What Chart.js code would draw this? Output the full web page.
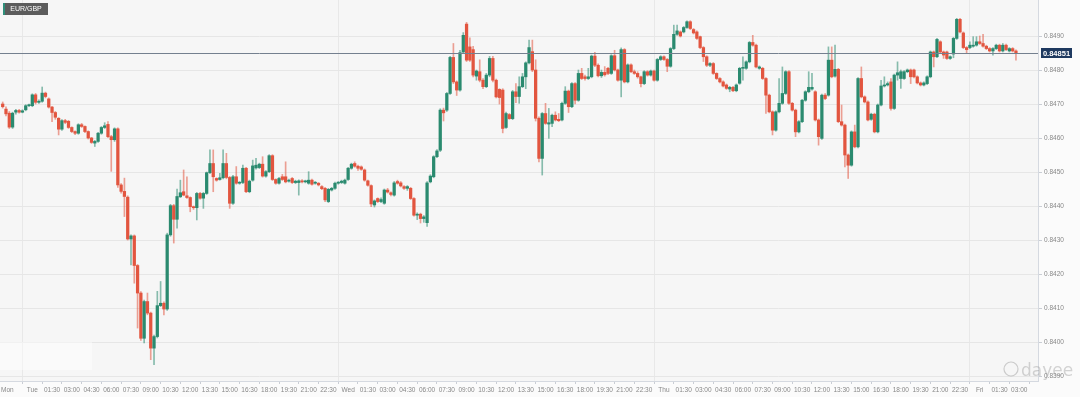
<!DOCTYPE html>
<html>
<head>
<meta charset="utf-8">
<script src="https://cdn.jsdelivr.net/npm/chart.js@4.4.0/dist/chart.umd.min.js"></script>
<style>
	html, body { margin: 0; padding: 0; background: #fbfbfb; }
	#space { width: 1080px; height: 397px; }
</style>
</head>
<body>
<div id="space"><canvas id="myChart" width="1080" height="397"></canvas></div>
<script>
// EUR/GBP 15 minute candles, Mon 21:45 -> Fri 02:45
// slot 0 = Tue 00:00, one slot = 15 min
const firstSlot = -9;

const opens = [
	// Mon 21:45 .. Tue 11:00
	0.84700, 0.84685, 0.84673, 0.84632, 0.84676, 0.84681, 0.84676, 0.84683, 0.84695,
	0.84695, 0.84727, 0.84705, 0.84708, 0.84732, 0.84715, 0.84691, 0.84675, 0.84658, 0.84626, 0.84651, 0.84649, 0.84631, 0.84619, 0.84614,
	0.84639, 0.84634, 0.84619, 0.84600, 0.84585, 0.84590, 0.84614, 0.84631, 0.84640, 0.84604, 0.84595, 0.84627, 0.84462, 0.84443, 0.84426,
	0.84303, 0.84312, 0.84225, 0.84144, 0.84011, 0.84119, 0.84085, 0.83982, 0.84016, 0.84107, 0.84114, 0.84097, 0.84315, 0.84401, 0.84361,
	// Tue 11:15 .. Wed 00:15
	0.84427, 0.84442, 0.84430, 0.84425, 0.84398, 0.84395, 0.84437, 0.84423, 0.84437, 0.84498, 0.84525, 0.84481, 0.84478, 0.84483, 0.84525,
	0.84484, 0.84408, 0.84486, 0.84467, 0.84469, 0.84511, 0.84442, 0.84476, 0.84512, 0.84513, 0.84523, 0.84488, 0.84501, 0.84548, 0.84478,
	0.84467, 0.84486, 0.84486, 0.84473, 0.84481, 0.84469, 0.84469, 0.84474, 0.84471, 0.84467, 0.84476, 0.84467, 0.84467, 0.84457, 0.84452,
	0.84413, 0.84447, 0.84452, 0.84467, 0.84469, 0.84467, 0.84478, 0.84511,
	// Wed 00:30 .. Wed 13:45
	0.84525, 0.84517, 0.84515, 0.84506, 0.84474, 0.84460, 0.84403, 0.84422, 0.84413, 0.84408, 0.84447, 0.84439, 0.84432, 0.84472, 0.84468,
	0.84457, 0.84452, 0.84452, 0.84422, 0.84373, 0.84376, 0.84363, 0.84351, 0.84471, 0.84486, 0.84545, 0.84564, 0.84682, 0.84682, 0.84731,
	0.84837, 0.84765, 0.84741, 0.84853, 0.84935, 0.84868, 0.84860, 0.84782, 0.84795, 0.84770, 0.84751, 0.84785, 0.84834, 0.84770, 0.84743,
	0.84741, 0.84631, 0.84669, 0.84657, 0.84736, 0.84722, 0.84751, 0.84780, 0.84821,
	// Wed 14:00 .. Thu 03:00
	0.84854, 0.84800, 0.84658, 0.84540, 0.84672, 0.84641, 0.84643, 0.84667, 0.84655, 0.84653, 0.84702, 0.84738, 0.84692, 0.84760, 0.84711,
	0.84790, 0.84780, 0.84775, 0.84780, 0.84841, 0.84814, 0.84783, 0.84793, 0.84805, 0.84790, 0.84842, 0.84800, 0.84770, 0.84860, 0.84765,
	0.84815, 0.84795, 0.84790, 0.84780, 0.84760, 0.84795, 0.84785, 0.84797, 0.84770, 0.84831, 0.84839, 0.84831, 0.84811, 0.84863, 0.84905,
	0.84912, 0.84912, 0.84925, 0.84942, 0.84919, 0.84912, 0.84898, 0.84866,
	// Thu 03:15 .. Thu 16:00
	0.84839, 0.84814, 0.84819, 0.84790, 0.84775, 0.84765, 0.84756, 0.84744, 0.84749, 0.84739, 0.84761, 0.84805, 0.84805, 0.84824, 0.84881,
	0.84873, 0.84805, 0.84805, 0.84775, 0.84726, 0.84677, 0.84623, 0.84677, 0.84702, 0.84731, 0.84795, 0.84702, 0.84682, 0.84618, 0.84648,
	0.84711, 0.84736, 0.84744, 0.84736, 0.84653, 0.84599, 0.84726, 0.84726, 0.84829, 0.84782, 0.84802, 0.84648, 0.84638, 0.84550, 0.84520,
	0.84618, 0.84574, 0.84775, 0.84721, 0.84706, 0.84655, 0.84670,
	// Thu 16:15 .. Fri 02:45
	0.84618, 0.84697, 0.84753, 0.84756, 0.84765, 0.84687, 0.84785, 0.84775, 0.84775, 0.84795, 0.84800, 0.84800, 0.84780, 0.84762, 0.84756,
	0.84760, 0.84780, 0.84853, 0.84839, 0.84883, 0.84853, 0.84853, 0.84834, 0.84847, 0.84893, 0.84949, 0.84909, 0.84866, 0.84866, 0.84870,
	0.84873, 0.84883, 0.84878, 0.84870, 0.84863, 0.84856, 0.84863, 0.84873, 0.84856, 0.84873, 0.84856, 0.84863, 0.84856
];

const highs = [
	0.84706, 0.84692, 0.84678, 0.84676, 0.84684, 0.84684, 0.84683, 0.84698, 0.84700,
	0.84730, 0.84731, 0.84712, 0.84750, 0.84735, 0.84718, 0.84693, 0.84678, 0.84660, 0.84654, 0.84655, 0.84652, 0.84633, 0.84621, 0.84642,
	0.84643, 0.84636, 0.84621, 0.84602, 0.84593, 0.84617, 0.84634, 0.84645, 0.84648, 0.84608, 0.84630, 0.84630, 0.84466, 0.84482, 0.84430,
	0.84315, 0.84315, 0.84228, 0.84148, 0.84123, 0.84144, 0.84088, 0.84020, 0.84149, 0.84178, 0.84118, 0.84320, 0.84405, 0.84405, 0.84450,

	0.84476, 0.84506, 0.84486, 0.84427, 0.84400, 0.84440, 0.84440, 0.84440, 0.84500, 0.84565, 0.84565, 0.84483, 0.84496, 0.84565, 0.84555,
	0.84487, 0.84490, 0.84516, 0.84472, 0.84520, 0.84514, 0.84476, 0.84535, 0.84540, 0.84526, 0.84545, 0.84504, 0.84551, 0.84551, 0.84480,
	0.84484, 0.84493, 0.84530, 0.84479, 0.84484, 0.84476, 0.84477, 0.84478, 0.84476, 0.84501, 0.84479, 0.84472, 0.84469, 0.84460, 0.84455,
	0.84452, 0.84455, 0.84470, 0.84472, 0.84476, 0.84479, 0.84514, 0.84526,

	0.84530, 0.84520, 0.84518, 0.84509, 0.84476, 0.84462, 0.84418, 0.84424, 0.84424, 0.84450, 0.84452, 0.84442, 0.84472, 0.84476, 0.84472,
	0.84460, 0.84460, 0.84455, 0.84425, 0.84380, 0.84379, 0.84372, 0.84472, 0.84492, 0.84548, 0.84566, 0.84686, 0.84688, 0.84734, 0.84840,
	0.84878, 0.84768, 0.84858, 0.84910, 0.84940, 0.84895, 0.84870, 0.84800, 0.84830, 0.84775, 0.84790, 0.84840, 0.84840, 0.84773, 0.84745,
	0.84745, 0.84676, 0.84672, 0.84740, 0.84760, 0.84780, 0.84790, 0.84824, 0.84888,

	0.84888, 0.84830, 0.84662, 0.84675, 0.84702, 0.84687, 0.84670, 0.84677, 0.84672, 0.84706, 0.84751, 0.84741, 0.84763, 0.84763, 0.84800,
	0.84805, 0.84785, 0.84805, 0.84844, 0.84852, 0.84818, 0.84800, 0.84810, 0.84808, 0.84845, 0.84858, 0.84803, 0.84865, 0.84863, 0.84818,
	0.84818, 0.84800, 0.84795, 0.84782, 0.84798, 0.84798, 0.84800, 0.84800, 0.84834, 0.84842, 0.84842, 0.84834, 0.84866, 0.84932, 0.84932,
	0.84915, 0.84928, 0.84945, 0.84945, 0.84922, 0.84915, 0.84900, 0.84869,

	0.84842, 0.84822, 0.84822, 0.84792, 0.84778, 0.84768, 0.84759, 0.84752, 0.84752, 0.84759, 0.84808, 0.84839, 0.84827, 0.84884, 0.84902,
	0.84876, 0.84812, 0.84808, 0.84778, 0.84729, 0.84680, 0.84680, 0.84775, 0.84809, 0.84798, 0.84798, 0.84705, 0.84685, 0.84651, 0.84714,
	0.84739, 0.84795, 0.84790, 0.84739, 0.84656, 0.84729, 0.84731, 0.84868, 0.84868, 0.84873, 0.84805, 0.84697, 0.84641, 0.84553, 0.84621,
	0.84638, 0.84778, 0.84809, 0.84724, 0.84709, 0.84673, 0.84673,

	0.84700, 0.84770, 0.84780, 0.84765, 0.84775, 0.84788, 0.84824, 0.84800, 0.84798, 0.84803, 0.84803, 0.84803, 0.84783, 0.84765, 0.84765,
	0.84783, 0.84856, 0.84856, 0.84893, 0.84886, 0.84856, 0.84856, 0.84842, 0.84896, 0.84952, 0.84952, 0.84912, 0.84869, 0.84883, 0.84898,
	0.84898, 0.84900, 0.84905, 0.84873, 0.84866, 0.84866, 0.84876, 0.84876, 0.84878, 0.84876, 0.84866, 0.84866, 0.84859
];

const lows = [
	0.84688, 0.84665, 0.84628, 0.84628, 0.84670, 0.84673, 0.84674, 0.84680, 0.84692,
	0.84692, 0.84700, 0.84702, 0.84705, 0.84718, 0.84688, 0.84648, 0.84655, 0.84609, 0.84622, 0.84642, 0.84628, 0.84616, 0.84610, 0.84611,
	0.84631, 0.84616, 0.84597, 0.84584, 0.84575, 0.84587, 0.84611, 0.84628, 0.84601, 0.84502, 0.84590, 0.84455, 0.84438, 0.84369, 0.84300,
	0.84227, 0.84173, 0.84041, 0.84005, 0.83997, 0.84080, 0.83948, 0.83933, 0.84012, 0.84104, 0.84080, 0.84093, 0.84311, 0.84291, 0.84335,

	0.84425, 0.84430, 0.84422, 0.84383, 0.84390, 0.84359, 0.84420, 0.84393, 0.84434, 0.84495, 0.84442, 0.84473, 0.84476, 0.84480, 0.84480,
	0.84393, 0.84405, 0.84464, 0.84464, 0.84466, 0.84439, 0.84439, 0.84473, 0.84508, 0.84510, 0.84485, 0.84485, 0.84498, 0.84475, 0.84464,
	0.84464, 0.84475, 0.84468, 0.84470, 0.84466, 0.84466, 0.84432, 0.84468, 0.84468, 0.84464, 0.84461, 0.84464, 0.84459, 0.84448, 0.84413,
	0.84410, 0.84444, 0.84449, 0.84464, 0.84466, 0.84464, 0.84475, 0.84508,

	0.84514, 0.84505, 0.84505, 0.84473, 0.84458, 0.84398, 0.84397, 0.84410, 0.84410, 0.84405, 0.84438, 0.84430, 0.84429, 0.84464, 0.84456,
	0.84449, 0.84446, 0.84419, 0.84370, 0.84360, 0.84350, 0.84352, 0.84340, 0.84468, 0.84483, 0.84542, 0.84560, 0.84650, 0.84678, 0.84728,
	0.84760, 0.84725, 0.84738, 0.84850, 0.84825, 0.84825, 0.84780, 0.84770, 0.84765, 0.84745, 0.84748, 0.84780, 0.84765, 0.84718, 0.84700,
	0.84615, 0.84628, 0.84655, 0.84654, 0.84704, 0.84702, 0.84748, 0.84745, 0.84818,

	0.84795, 0.84650, 0.84530, 0.84491, 0.84640, 0.84599, 0.84633, 0.84650, 0.84648, 0.84650, 0.84699, 0.84675, 0.84689, 0.84700, 0.84708,
	0.84772, 0.84770, 0.84772, 0.84777, 0.84810, 0.84780, 0.84778, 0.84782, 0.84786, 0.84787, 0.84797, 0.84767, 0.84721, 0.84762, 0.84762,
	0.84792, 0.84787, 0.84776, 0.84750, 0.84757, 0.84782, 0.84782, 0.84767, 0.84767, 0.84828, 0.84828, 0.84795, 0.84808, 0.84860, 0.84902,
	0.84897, 0.84909, 0.84922, 0.84919, 0.84906, 0.84890, 0.84863, 0.84825,

	0.84810, 0.84810, 0.84787, 0.84772, 0.84762, 0.84750, 0.84743, 0.84736, 0.84736, 0.84736, 0.84758, 0.84770, 0.84802, 0.84821, 0.84870,
	0.84806, 0.84802, 0.84772, 0.84672, 0.84674, 0.84609, 0.84620, 0.84674, 0.84699, 0.84728, 0.84699, 0.84679, 0.84604, 0.84615, 0.84645,
	0.84708, 0.84733, 0.84741, 0.84650, 0.84579, 0.84596, 0.84713, 0.84723, 0.84777, 0.84779, 0.84645, 0.84635, 0.84515, 0.84481, 0.84517,
	0.84571, 0.84571, 0.84718, 0.84703, 0.84650, 0.84652, 0.84615,

	0.84615, 0.84694, 0.84750, 0.84753, 0.84682, 0.84684, 0.84770, 0.84746, 0.84772, 0.84792, 0.84760, 0.84777, 0.84759, 0.84753, 0.84753,
	0.84757, 0.84777, 0.84809, 0.84836, 0.84850, 0.84834, 0.84831, 0.84831, 0.84836, 0.84890, 0.84909, 0.84863, 0.84849, 0.84863, 0.84867,
	0.84870, 0.84875, 0.84867, 0.84860, 0.84853, 0.84844, 0.84860, 0.84853, 0.84853, 0.84857, 0.84853, 0.84853, 0.84829
];

const closes = [
	0.84692, 0.84671, 0.84632, 0.84673, 0.84681, 0.84676, 0.84680, 0.84695, 0.84697,
	0.84727, 0.84705, 0.84708, 0.84732, 0.84722, 0.84691, 0.84675, 0.84661, 0.84626, 0.84651, 0.84646, 0.84631, 0.84619, 0.84614, 0.84639,
	0.84634, 0.84619, 0.84600, 0.84587, 0.84590, 0.84614, 0.84631, 0.84636, 0.84604, 0.84595, 0.84627, 0.84462, 0.84443, 0.84428, 0.84303,
	0.84312, 0.84225, 0.84144, 0.84011, 0.84119, 0.84085, 0.83982, 0.84016, 0.84107, 0.84114, 0.84097, 0.84315, 0.84401, 0.84361, 0.84428,

	0.84439, 0.84432, 0.84425, 0.84398, 0.84395, 0.84437, 0.84423, 0.84437, 0.84498, 0.84525, 0.84486, 0.84476, 0.84483, 0.84525, 0.84484,
	0.84408, 0.84486, 0.84467, 0.84469, 0.84511, 0.84442, 0.84473, 0.84518, 0.84520, 0.84523, 0.84488, 0.84501, 0.84548, 0.84478, 0.84467,
	0.84481, 0.84478, 0.84471, 0.84476, 0.84469, 0.84473, 0.84474, 0.84471, 0.84473, 0.84476, 0.84464, 0.84469, 0.84462, 0.84451, 0.84418,
	0.84449, 0.84452, 0.84467, 0.84469, 0.84473, 0.84476, 0.84511, 0.84523,

	0.84517, 0.84511, 0.84508, 0.84476, 0.84461, 0.84406, 0.84415, 0.84413, 0.84419, 0.84447, 0.84441, 0.84434, 0.84468, 0.84467, 0.84459,
	0.84452, 0.84457, 0.84422, 0.84373, 0.84376, 0.84363, 0.84368, 0.84468, 0.84488, 0.84545, 0.84562, 0.84682, 0.84674, 0.84731, 0.84837,
	0.84765, 0.84741, 0.84851, 0.84902, 0.84829, 0.84829, 0.84785, 0.84797, 0.84770, 0.84751, 0.84785, 0.84834, 0.84770, 0.84721, 0.84719,
	0.84628, 0.84672, 0.84657, 0.84736, 0.84722, 0.84751, 0.84780, 0.84821, 0.84866,

	0.84800, 0.84658, 0.84540, 0.84672, 0.84643, 0.84645, 0.84667, 0.84653, 0.84651, 0.84702, 0.84738, 0.84692, 0.84760, 0.84711, 0.84790,
	0.84775, 0.84775, 0.84780, 0.84841, 0.84814, 0.84783, 0.84793, 0.84786, 0.84790, 0.84842, 0.84800, 0.84770, 0.84860, 0.84765, 0.84815,
	0.84795, 0.84790, 0.84780, 0.84760, 0.84795, 0.84785, 0.84797, 0.84770, 0.84831, 0.84839, 0.84831, 0.84811, 0.84863, 0.84905, 0.84915,
	0.84900, 0.84925, 0.84942, 0.84922, 0.84909, 0.84893, 0.84866, 0.84839,

	0.84814, 0.84819, 0.84790, 0.84775, 0.84765, 0.84753, 0.84746, 0.84749, 0.84739, 0.84756, 0.84805, 0.84806, 0.84824, 0.84881, 0.84873,
	0.84809, 0.84809, 0.84775, 0.84726, 0.84677, 0.84623, 0.84677, 0.84702, 0.84731, 0.84795, 0.84702, 0.84682, 0.84618, 0.84648, 0.84711,
	0.84736, 0.84749, 0.84749, 0.84653, 0.84604, 0.84726, 0.84716, 0.84829, 0.84780, 0.84802, 0.84648, 0.84638, 0.84550, 0.84520, 0.84618,
	0.84574, 0.84775, 0.84721, 0.84706, 0.84653, 0.84670, 0.84618,

	0.84697, 0.84753, 0.84756, 0.84760, 0.84687, 0.84785, 0.84792, 0.84795, 0.84795, 0.84800, 0.84780, 0.84780, 0.84762, 0.84756, 0.84762,
	0.84780, 0.84853, 0.84839, 0.84890, 0.84853, 0.84844, 0.84834, 0.84839, 0.84893, 0.84949, 0.84912, 0.84866, 0.84860, 0.84873, 0.84873,
	0.84883, 0.84878, 0.84870, 0.84863, 0.84856, 0.84863, 0.84873, 0.84856, 0.84873, 0.84860, 0.84863, 0.84856, 0.84851
];

const lastPrice = 0.84851;
const yTicks = [0.8390, 0.8400, 0.8410, 0.8420, 0.8430, 0.8440, 0.8450, 0.8460, 0.8470, 0.8480, 0.8490];
const dayNames = ["Tue", "Wed", "Thu", "Fri"];
const clockLabels = ["01:30", "03:00", "04:30", "06:00", "07:30", "09:00", "10:30", "12:00", "13:30", "15:00", "16:30", "18:00", "19:30", "21:00", "22:30"];
const firstDayName = "Mon";

// tick every 6 slots (1h30)
const xTickLabels = [];
dayNames.forEach((d, i) => {
	xTickLabels.push(d);
	const n = i == dayNames.length - 1 ? 2 : clockLabels.length;
	for (let k = 0; k < n; k++) xTickLabels.push(clockLabels[k]);
});

const green = "#2a8a6f";
const red = "#e2553f";
const greenWick = "rgba(42,138,111,0.55)";
const redWick = "rgba(226,85,63,0.55)";
const fontFam = "'Liberation Sans', Arial, sans-serif";

Chart.defaults.font.family = fontFam;

const decor = {
	id: "decor",
	beforeDraw(chart) {
		const c = chart.ctx, a = chart.chartArea;
		c.save();
		c.fillStyle = "#fbfbfb";
		c.fillRect(0, 0, chart.width, chart.height);
		c.fillStyle = "#f6f6f6";
		c.fillRect(a.left, a.top, a.right - a.left, a.bottom - a.top);
		c.restore();
	},
	afterDatasetsDraw(chart) {
		const c = chart.ctx, a = chart.chartArea;
		const y = Math.round(chart.scales.y.getPixelForValue(lastPrice)) + 0.5;
		c.save();
		c.strokeStyle = "#74808f";
		c.lineWidth = 1;
		c.beginPath();
		c.moveTo(a.left, y);
		c.lineTo(a.right, y);
		c.stroke();
		c.restore();
	},
	afterDraw(chart) {
		const c = chart.ctx, a = chart.chartArea;
		const y = Math.round(chart.scales.y.getPixelForValue(lastPrice));
		c.save();
		// last price tag
		c.fillStyle = "#1f3a60";
		c.fillRect(a.right + 3, y - 5, 31, 10);
		c.fillStyle = "#fff";
		c.font = "bold 7.5px " + fontFam;
		c.textAlign = "center";
		c.textBaseline = "middle";
		c.fillText(lastPrice.toFixed(5), a.right + 18.5, y + 0.5);

		// symbol badge
		c.fillStyle = "#5c5c5c";
		c.fillRect(3, 3, 45, 12);
		c.fillStyle = "#2f8f7a";
		c.fillRect(3, 3, 2, 12);
		c.fillStyle = "#fff";
		c.font = "7px " + fontFam;
		c.fillText("EUR/GBP", 26, 9.5);

		// first day label at left edge
		c.fillStyle = "#888";
		c.textAlign = "left";
		c.font = "6.5px " + fontFam;
		c.fillText(firstDayName, 1, 390);

		// blurred logo patch
		c.fillStyle = "rgba(255,255,255,0.45)";
		c.fillRect(0, 342, 92, 28);

		// watermark
		c.strokeStyle = "rgba(150,150,150,0.45)";
		c.lineWidth = 1.2;
		c.beginPath();
		c.arc(1011, 369, 7, 0, Math.PI * 2);
		c.stroke();
		c.fillStyle = "rgba(150,150,150,0.4)";
		c.font = "17px 'DejaVu Sans', sans-serif";
		c.textBaseline = "alphabetic";
		c.fillText("dayee", 1021, 376);
		c.restore();
	}
};

const ctx = document.getElementById("myChart").getContext("2d");
const myChart = new Chart(ctx, {
	type: "bar",
	data: {
		datasets: [
			{
				label: "body",
				data: closes.map((cl, i) => ({ x: firstSlot + i, y: [opens[i], cl] })),
				backgroundColor: (c) => (closes[c.dataIndex] >= opens[c.dataIndex] ? green : red),
				barThickness: 2.6,
				minBarLength: 1,
				grouped: false,
				order: 0,
			},
			{
				label: "wick",
				data: highs.map((h, i) => ({ x: firstSlot + i, y: [lows[i], h] })),
				backgroundColor: (c) => (closes[c.dataIndex] >= opens[c.dataIndex] ? greenWick : redWick),
				barThickness: 1,
				minBarLength: 1,
				grouped: false,
				order: 1,
			},
		],
	},
	options: {
		responsive: false,
		animation: false,
		layout: { padding: 0 },
		plugins: { legend: { display: false }, tooltip: { enabled: false } },
		scales: {
			x: {
				type: "linear",
				min: -9.82,
				max: 305.7,
				offset: false,
				afterBuildTicks: (s) => {
					s.ticks = xTickLabels.map((l, i) => ({ value: i * 6 }));
				},
				afterFit: (s) => {
					s.height = 16;
					s.paddingLeft = 0;
					s.paddingRight = 0;
				},
				ticks: {
					callback: (v, i) => xTickLabels[i],
					color: "#888",
					font: { size: 6.5 },
					maxRotation: 0,
					autoSkip: false,
					padding: 2,
				},
				grid: {
					color: (c) => (c.index % 16 == 0 ? "#e8e8e8" : "rgba(0,0,0,0)"),
					tickColor: "#c9cdd4",
					tickLength: 3,
				},
				border: { color: "#d5d9e0" },
			},
			y: {
				position: "right",
				min: 0.838853,
				max: 0.850059,
				afterBuildTicks: (s) => {
					s.ticks = yTicks.map((v) => ({ value: v }));
				},
				afterFit: (s) => {
					s.width = 42;
					s.paddingTop = 0;
					s.paddingBottom = 0;
				},
				ticks: {
					callback: (v) => v.toFixed(4),
					color: "#888",
					font: { size: 6.5 },
					padding: 2,
				},
				grid: { color: "#e6e6e6", tickColor: "#c9cdd4", tickLength: 4 },
				border: { color: "#d5d9e0" },
			},
		},
	},
	plugins: [decor],
});
</script>
</body>
</html>
